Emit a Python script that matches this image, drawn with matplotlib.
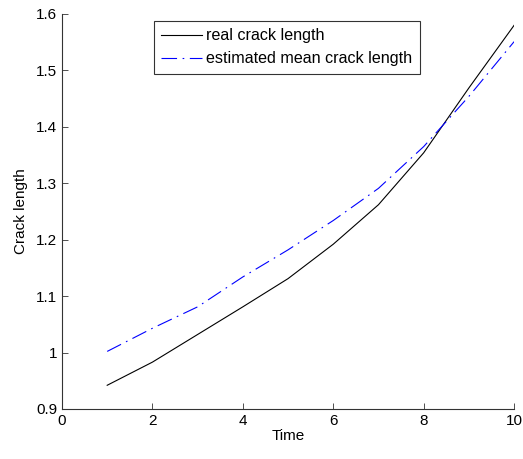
import numpy as np
import matplotlib
matplotlib.use('Agg')
import matplotlib.pyplot as plt

plt.rcParams['font.family'] = ['Liberation Sans', 'DejaVu Sans']

time = [1, 2, 3, 4, 5, 6, 7, 8, 9, 10]
real_len = [0.942, 0.983, 1.032, 1.081, 1.131, 1.192, 1.262, 1.354, 1.469, 1.580]
est_len = [1.002, 1.043, 1.081, 1.134, 1.182, 1.234, 1.291, 1.365, 1.454, 1.551]

fig = plt.figure(figsize=(5.23, 4.59), dpi=100)
ax = fig.add_axes([0.1185, 0.109, 0.8645, 0.8605])

ax.plot(time, real_len, color='black', lw=0.8, label='real crack length')
ax.plot(time, est_len, color='blue', lw=0.8, dashes=(14, 5, 1.5, 5),
        label='estimated mean crack length')

ax.set_xlim(0, 10)
ax.set_ylim(0.9, 1.6)
ax.set_xticks([0, 2, 4, 6, 8, 10])
ax.set_yticks([0.9, 1, 1.1, 1.2, 1.3, 1.4, 1.5, 1.6])
ax.set_yticklabels(['0.9', '1', '1.1', '1.2', '1.3', '1.4', '1.5', '1.6'])
ax.tick_params(direction='in', labelsize=11, length=4, width=0.6, colors='#333333',
               labelcolor='black')
ax.spines['top'].set_visible(False)
ax.spines['right'].set_visible(False)
for s in ['left', 'bottom']:
    ax.spines[s].set_linewidth(0.8)
    ax.spines[s].set_color('#333333')

ax.set_xlabel('Time', fontsize=11, labelpad=1)
ax.set_ylabel('Crack length', fontsize=11, labelpad=6)

leg = ax.legend(loc='upper left', bbox_to_anchor=(0.2035, 0.982), fontsize=11.6,
                frameon=True, fancybox=False, edgecolor='black', borderpad=0.45,
                borderaxespad=0, handlelength=2.5, labelspacing=0.5,
                handletextpad=0.3)
leg.get_frame().set_linewidth(0.8)

fig.savefig('out.png', dpi=100)
